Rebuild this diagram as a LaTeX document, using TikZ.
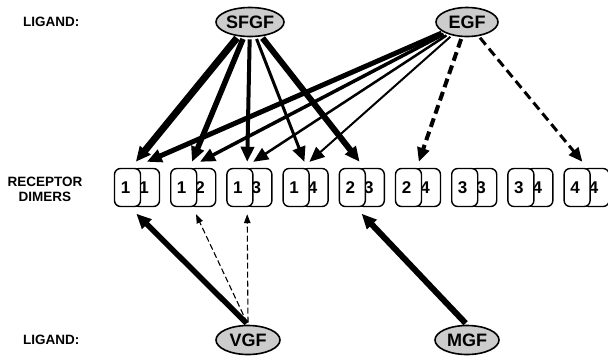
\documentclass[tikz,border=0pt]{standalone}
\usepackage{fontspec}
\setmainfont{Liberation Sans}
\usetikzlibrary{arrows.meta,shapes.geometric,calc}
\begin{document}
\begin{tikzpicture}[x=1pt,y=-1pt,
 lab/.style={font=\fontsize{13.5}{15}\selectfont\bfseries, inner sep=0pt},
 lig/.style={ellipse, draw, line width=1.6pt, fill=gray!40, inner sep=0pt, minimum height=29pt, font=\fontsize{18}{18}\selectfont\bfseries},
 rbox/.style={draw, line width=1.4pt, rounded corners=6pt, fill=white, minimum width=26pt, minimum height=38pt, inner sep=0pt, font=\fontsize{17}{17}\selectfont\bfseries},
 arr/.style={line width=#1, shorten <=2pt, -{Triangle[length=15pt,width=13pt]}},
 darr/.style={line width=#1, shorten <=2pt, dash pattern=on 9pt off 5pt, -{Triangle[length=14pt,width=12pt]}},
 tarr/.style={line width=1.1pt, shorten <=2pt, dash pattern=on 6pt off 3pt, -{Triangle[length=9pt,width=6.5pt]}},
]
\useasboundingbox (0,0) rectangle (608,357);
\node[lab, anchor=west] (l1) at (23,22) {LIGAND:};
\node[lig, minimum width=68pt] (sfgf) at (250,22) {SFGF};
\node[lig, minimum width=62pt] (egf) at (467,22) {EGF};
\node[lab, align=center] (rd) at (45,189) {RECEPTOR\\DIMERS};
\node[lab, anchor=west] (l2) at (23,340) {LIGAND:};
\node[lig, minimum width=64pt] (vgf) at (248,340) {VGF};
\node[lig, minimum width=64pt] (mgf) at (467,340) {MGF};
\foreach \a/\b [count=\k] in {1/1,1/2,1/3,1/4,2/3,2/4,3/3,3/4,4/4} {
 \pgfmathsetmacro\L{114.5+56.2*(\k-1)}
 \node[rbox] (b\k) at (\L+32,187.5) {\hspace*{-5pt}\b};
 \node[rbox] (a\k) at (\L+13,187.5) {\hspace*{-4pt}\a};
}
% SFGF
\draw[arr=7pt] (sfgf) -- ($(b1.north west)+(3,-6)$);
\draw[arr=5.5pt] (sfgf) -- ($(b2.north west)+(3,-6)$);
\draw[arr=4pt] (sfgf) -- ($(b3.north west)+(2,-6)$);
\draw[arr=3pt] (sfgf) -- ($(b4.north west)+(3,-6)$);
\draw[arr=6pt] (sfgf) -- ($(b5.north west)+(2,-6)$);
% EGF
\draw[arr=5pt] (egf) -- ($(b1.north west)+(14,-6)$);
\draw[arr=3.5pt] (egf) -- ($(b2.north west)+(11,-6)$);
\draw[arr=2.5pt] (egf) -- ($(b3.north west)+(8,-6)$);
\draw[arr=2pt] (egf) -- ($(b4.north west)+(8,-6)$);
\draw[darr=4pt] (egf) -- ($(b6.north west)+(5,-6)$);
\draw[darr=3pt] (egf) -- ($(b9.north west)+(0,-6)$);
% VGF, MGF
\draw[arr=5.5pt] (vgf.north) -- ($(b1.south west)+(3.5,6.5)$);
\draw[tarr] (vgf.north) -- ($(b2.south west)+(7,7)$);
\draw[tarr] (vgf.north) -- ($(b3.south west)+(2,7)$);
\draw[arr=6pt] (mgf.north) -- ($(b5.south west)+(4,6.5)$);
\end{tikzpicture}
\end{document}
